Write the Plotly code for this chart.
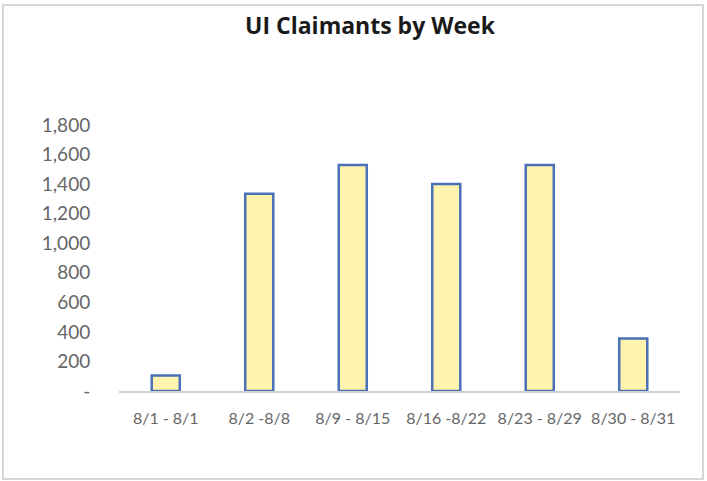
import plotly.graph_objects as go

categories = ["8/1 - 8/1", "8/2 -8/8", "8/9 - 8/15", "8/16 -8/22", "8/23 - 8/29", "8/30 - 8/31"]
claimants = [105, 1335, 1530, 1400, 1530, 355]
y_tick_vals = [0, 200, 400, 600, 800, 1000, 1200, 1400, 1600, 1800]
y_tick_text = ["-", "200", "400", "600", "800", "1,000", "1,200", "1,400", "1,600", "1,800"]

W, H = 707, 481
L, R, T, B = 119, 27, 125, 90
pw, ph = W - L - R, H - T - B

def px_x(x):
    return (x - L) / pw

def px_y(y):
    return (H - B - y) / ph

fig = go.Figure(go.Bar(
    x=categories, y=claimants,
    width=0.3,
    marker=dict(color="#FFF3AE", line=dict(color="#4A70B8", width=2.5)),
))

fig.update_layout(
    width=W, height=H,
    margin=dict(l=L, r=R, t=T, b=B),
    paper_bgcolor="white", plot_bgcolor="white",
    showlegend=False,
    title=dict(text="<b>UI Claimants by Week</b>", x=px_x(370), xref="paper",
               xanchor="center", y=1 - 26 / H, yanchor="middle",
               font=dict(family="Open Sans", size=23, color="#1a1a1a")),
    font=dict(family="Lato", color="#666666", size=13),
    bargap=0.68,
)
fig.update_xaxes(showline=True, linecolor="#D0D0D0", linewidth=1.5, showgrid=False,
                 ticks="outside", ticklen=12, tickcolor="rgba(0,0,0,0)",
                 tickfont=dict(size=16, color="#666666"), tickangle=0)
fig.update_yaxes(range=[0, 1800], tickvals=y_tick_vals, ticktext=y_tick_text,
                 showgrid=False, zeroline=False, showline=False,
                 ticks="outside", ticklen=24, tickcolor="rgba(0,0,0,0)",
                 tickfont=dict(size=19, color="#666666"))

fig.add_shape(type="rect", xref="paper", yref="paper",
              x0=px_x(3), x1=px_x(703), y0=px_y(479), y1=px_y(5),
              line=dict(color="#D6D6D6", width=2), fillcolor="rgba(0,0,0,0)", layer="below")

fig.write_html("out.html", config={"displayModeBar": False},
               post_script="document.body.style.margin='0';")
